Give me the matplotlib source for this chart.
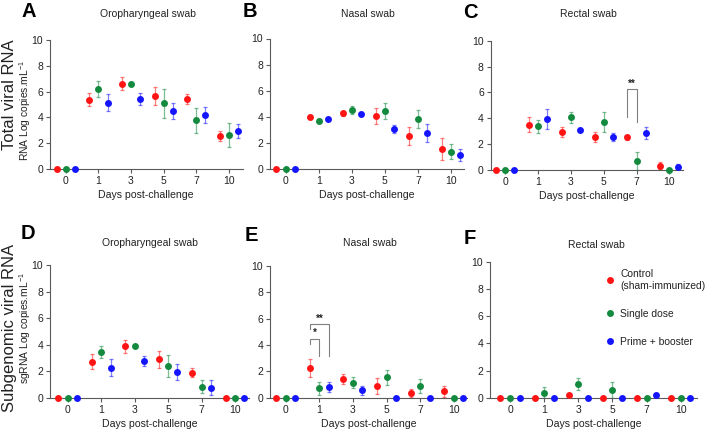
import numpy as np
import matplotlib.pyplot as plt

plt.rcParams['font.family'] = ['Liberation Sans', 'DejaVu Sans']
plt.rcParams['mathtext.fontset'] = 'custom'
plt.rcParams['mathtext.rm'] = 'Liberation Sans'
plt.rcParams['mathtext.it'] = 'Liberation Sans:italic'

W, H = 708, 432

days = ['0', '1', '3', '5', '7', '10']
groups = ['Control\n(sham-immunized)', 'Single dose', 'Prime + booster']
group_colors = ['#ff1414', '#138a3e', '#1414ff']

# total viral RNA (log copies/mL), mean and error per day
a_ctrl = [0, 5.36, 6.60, 5.67, 5.41, 2.58]
a_ctrl_err = [0, 0.5, 0.5, 0.7, 0.4, 0.4]
a_single = [0, 6.19, 6.62, 5.08, 3.76, 2.65]
a_single_err = [0, 0.6, 0.1, 1.1, 0.95, 0.95]
a_prime = [0, 5.15, 5.41, 4.51, 4.20, 2.92]
a_prime_err = [0, 0.65, 0.45, 0.6, 0.6, 0.55]

b_ctrl = [0, 4.00, 4.27, 4.07, 2.54, 1.53]
b_ctrl_err = [0, 0.1, 0.2, 0.6, 0.72, 0.85]
b_single = [0, 3.72, 4.53, 4.45, 3.84, 1.35]
b_single_err = [0, 0.1, 0.3, 0.6, 0.7, 0.58]
b_prime = [0, 3.82, 4.22, 3.08, 2.75, 1.09]
b_prime_err = [0, 0.1, 0.1, 0.3, 0.7, 0.45]

c_ctrl = [0, 3.50, 2.94, 2.53, 2.53, 0.34]
c_ctrl_err = [0, 0.57, 0.38, 0.4, 0.2, 0.3]
c_single = [0, 3.40, 4.07, 3.74, 0.70, 0]
c_single_err = [0, 0.5, 0.4, 0.77, 0.7, 0]
c_prime = [0, 3.92, 3.09, 2.53, 2.84, 0.26]
c_prime_err = [0, 0.77, 0.15, 0.3, 0.45, 0.2]

# subgenomic RNA
d_ctrl = [0, 2.72, 3.88, 2.90, 1.89, 0]
d_ctrl_err = [0, 0.55, 0.47, 0.63, 0.32, 0]
d_single = [0, 3.48, 3.90, 2.39, 0.83, 0]
d_single_err = [0, 0.45, 0.1, 0.85, 0.5, 0]
d_prime = [0, 2.27, 2.77, 1.94, 0.76, 0]
d_prime_err = [0, 0.65, 0.4, 0.62, 0.55, 0]

e_ctrl = [0, 2.28, 1.42, 0.91, 0.33, 0.48]
e_ctrl_err = [0, 0.68, 0.35, 0.6, 0.3, 0.44]
e_single = [0, 0.71, 1.14, 1.54, 0.89, 0]
e_single_err = [0, 0.5, 0.43, 0.55, 0.55, 0]
e_prime = [0, 0.78, 0.56, 0, 0, 0]
e_prime_err = [0, 0.38, 0.35, 0, 0, 0]

f_ctrl = [0, 0, 0.20, 0, 0, 0]
f_ctrl_err = [0, 0, 0.1, 0, 0, 0]
f_single = [0, 0.37, 1.03, 0.57, 0, 0]
f_single_err = [0, 0.4, 0.43, 0.6, 0, 0]
f_prime = [0, 0, 0, 0, 0.22, 0]
f_prime_err = [0, 0, 0, 0, 0.1, 0]

# significance brackets: (day index, left group, right group, top, left foot, right foot, stars)
c_brackets = [(4, 0, 1, 6.24, 4.12, 3.74, '**')]
e_brackets = [(1, 0, 1, 4.48, 4.05, 3.16, '*'),
              (1, 0, 2, 5.57, 5.19, 3.16, '**')]

offsets = [-0.28, 0.0, 0.28]
gray = '#5a5a5a'
txt = '#222222'

# letter, title, data, brackets, axes box px (l, t, r, b), tick0 px, tick10 px, letter px, title px
panels = [
    ('A', 'Oropharyngeal swab', [(a_ctrl, a_ctrl_err), (a_single, a_single_err), (a_prime, a_prime_err)], [],
     (50, 40, 242.5, 169), 65.7, 229, (21, 2), (148, 14)),
    ('B', 'Nasal swab', [(b_ctrl, b_ctrl_err), (b_single, b_single_err), (b_prime, b_prime_err)], [],
     (270, 38.5, 464, 169.3), 285.7, 451, (243, 2), (368, 14)),
    ('C', 'Rectal swab', [(c_ctrl, c_ctrl_err), (c_single, c_single_err), (c_prime, c_prime_err)], c_brackets,
     (490.7, 40.7, 682.7, 170), 505.3, 669.3, (463, 3), (588, 14)),
    ('D', 'Oropharyngeal swab', [(d_ctrl, d_ctrl_err), (d_single, d_single_err), (d_prime, d_prime_err)], [],
     (50, 265.3, 249, 397.7), 67.7, 235, (21, 224), (150, 243)),
    ('E', 'Nasal swab', [(e_ctrl, e_ctrl_err), (e_single, e_single_err), (e_prime, e_prime_err)], e_brackets,
     (270, 266, 467, 397.7), 285.7, 453.7, (245, 226), (370, 243)),
    ('F', 'Rectal swab', [(f_ctrl, f_ctrl_err), (f_single, f_single_err), (f_prime, f_prime_err)], [],
     (490, 262, 696.7, 397.7), 510, 680.7, (464, 229), (596, 245)),
]

fig = plt.figure(figsize=(W / 100, H / 100), dpi=100)
x = np.arange(len(days))

for letter, title, data, brackets, box, t0, t10, lpos, tpos in panels:
    l, t, r, b = box
    ax = fig.add_axes([l / W, 1 - b / H, (r - l) / W, (b - t) / H])
    sp = (t10 - t0) / (len(days) - 1)
    ax.set_xlim((l - t0) / sp, (r - t0) / sp)
    ax.set_ylim(0, 10)

    handles = []
    for g, (m, e) in enumerate(data):
        m = np.array(m, dtype=float)
        e = np.array(e, dtype=float)
        xs = x + offsets[g]
        has = e > 0
        lower = np.minimum(e, m)
        if has.any():
            ax.errorbar(xs[has], m[has], yerr=[lower[has], e[has]], fmt='none',
                        ecolor=group_colors[g], alpha=0.55, elinewidth=0.9,
                        capsize=1.6, capthick=0.9, zorder=2)
        h, = ax.plot(xs, m, 'o', color=group_colors[g], ms=5, mec='none',
                     clip_on=False, zorder=3, label=groups[g])
        handles.append(h)

    for d, g1, g2, top, y1, y2, stars in brackets:
        x1, x2 = d + offsets[g1], d + offsets[g2]
        ax.plot([x1, x1, x2, x2], [y1, top, top, y2], color='#808080', lw=0.8)
        ax.text((x1 + x2) / 2, top + 0.05, stars, ha='center', va='bottom',
                fontsize=7, fontweight='bold', color=txt)

    ax.set_xticks(x)
    ax.set_xticklabels(days)
    ax.set_yticks(np.arange(0, 11, 2))
    for s in ['top', 'right']:
        ax.spines[s].set_visible(False)
    for s in ['left', 'bottom']:
        ax.spines[s].set_color(gray)
        ax.spines[s].set_linewidth(0.8)
    ax.tick_params(length=3, width=0.8, color=gray, labelsize=7.5, labelcolor=txt, pad=2)
    ax.set_xlabel('Days post-challenge', fontsize=7.6, color=txt, labelpad=3)

    fig.text(tpos[0] / W, 1 - tpos[1] / H, title, fontsize=7.5, color=txt,
             ha='center', va='center')
    fig.text(lpos[0] / W, 1 - lpos[1] / H, letter, fontsize=14.5, fontweight='bold',
             ha='left', va='top', color='black')

    if letter == 'F':
        ax.legend(handles=handles, loc='upper left', bbox_to_anchor=(605 / W, 1 - 269 / H),
                  bbox_transform=fig.transFigure, frameon=False, fontsize=7.4,
                  handlelength=1.0, handletextpad=0.5, labelspacing=1.75,
                  borderpad=0, borderaxespad=0, labelcolor=txt)

# row labels
fig.text(9.5 / W, 1 - 95 / H, 'Total viral RNA', rotation=90, ha='center', va='center',
         fontsize=12, color=txt)
fig.text(25.5 / W, 1 - 110 / H, 'RNA Log copies.mL$^{-1}$', rotation=90, ha='center', va='center',
         fontsize=7.4, color=txt)
fig.text(9.5 / W, 1 - 328 / H, 'Subgenomic viral RNA', rotation=90, ha='center', va='center',
         fontsize=12, color=txt)
fig.text(25.5 / W, 1 - 328 / H, 'sgRNA Log copies.mL$^{-1}$', rotation=90, ha='center', va='center',
         fontsize=7.4, color=txt)

fig.savefig('out.png', dpi=100)
